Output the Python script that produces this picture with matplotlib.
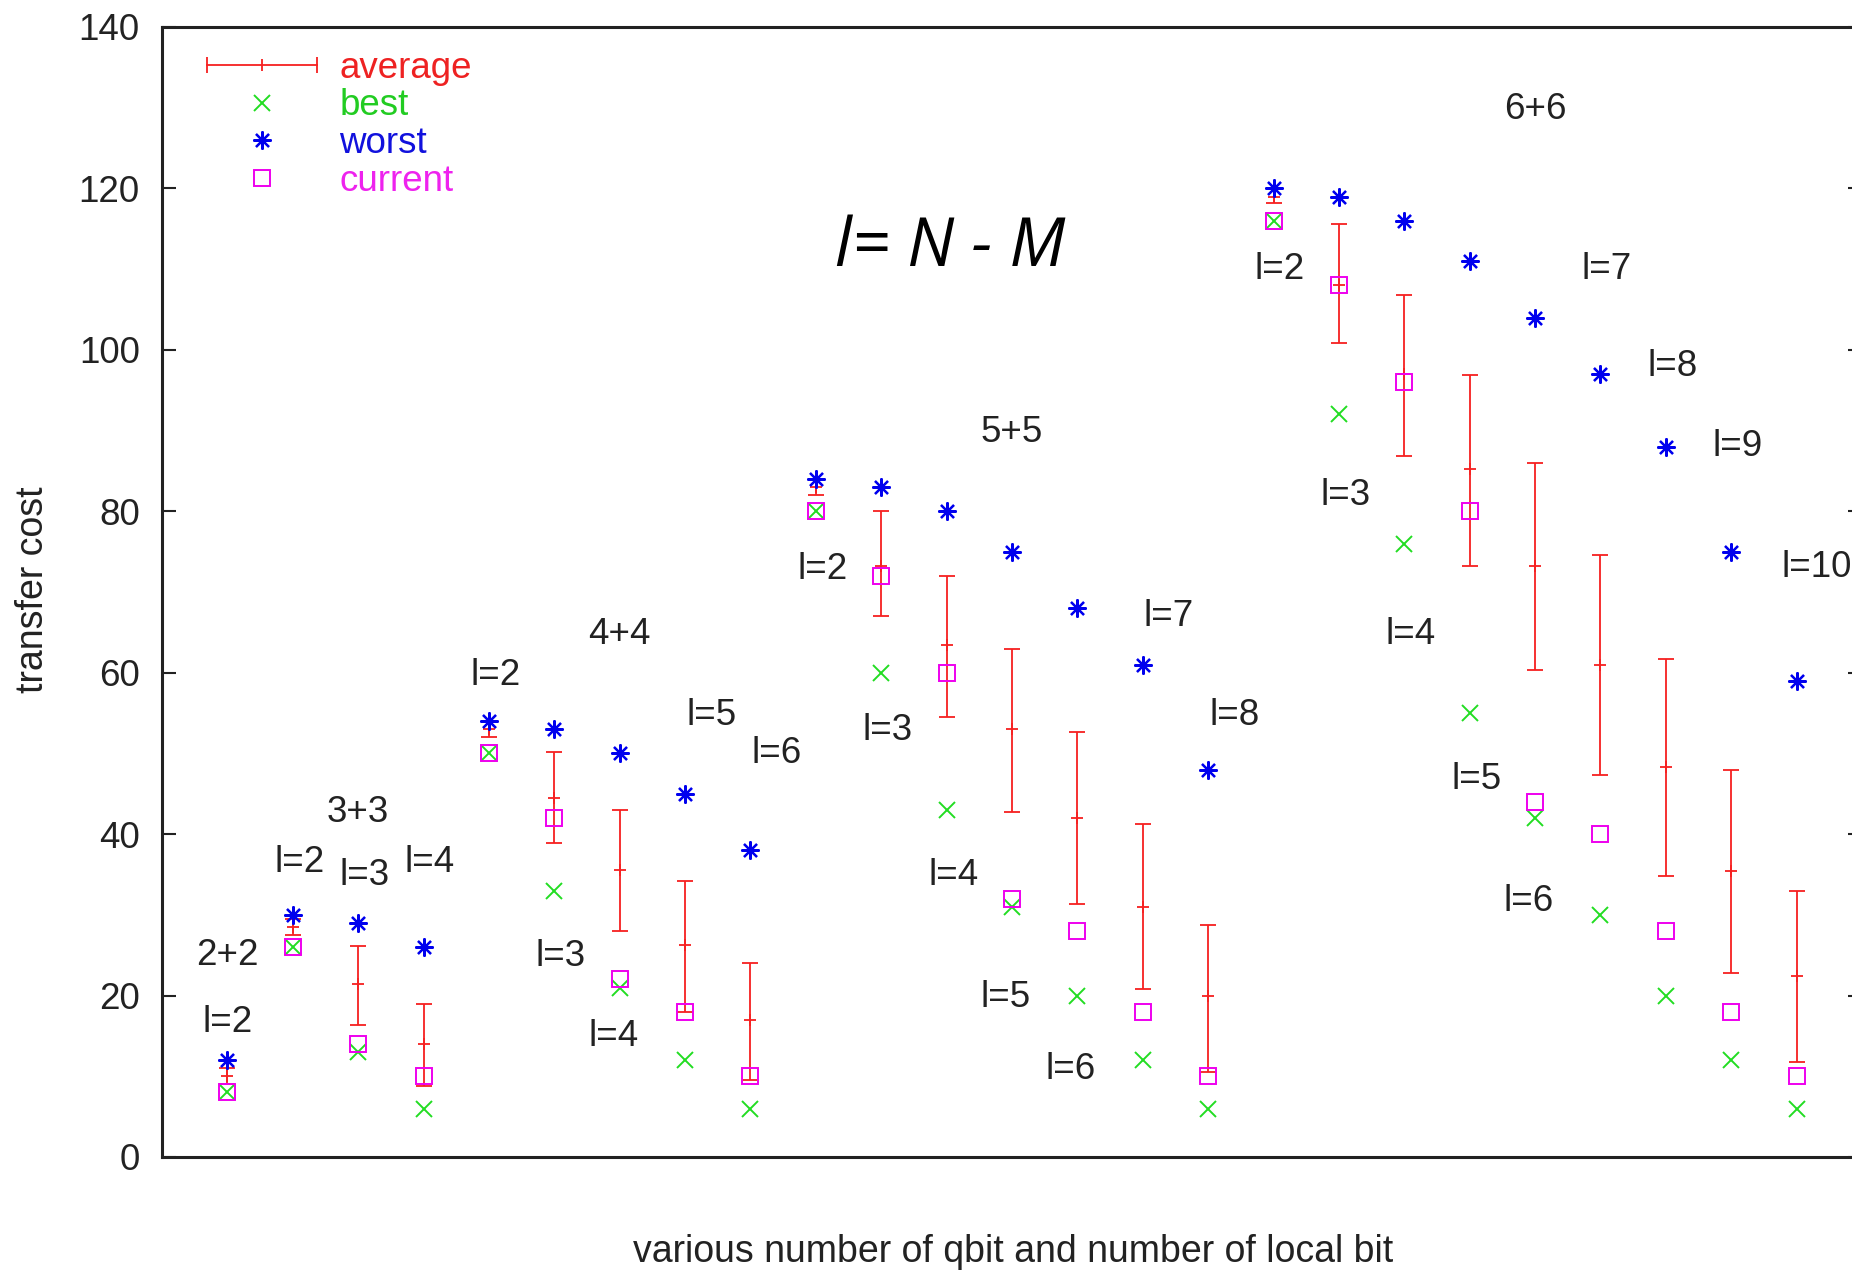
import matplotlib
matplotlib.use("Agg")
import matplotlib.pyplot as plt
from matplotlib.lines import Line2D
from matplotlib.legend_handler import HandlerBase
import numpy as np

# 25 configurations: 2+2 (l=2), 3+3 (l=2..4), 4+4 (l=2..6), 5+5 (l=2..8), 6+6 (l=2..10)
x = np.arange(1, 26)

worst = [12, 30, 29, 26, 54, 53, 50, 45, 38,
         84, 83, 80, 75, 68, 61, 48,
         120, 119, 116, 111, 104, 97, 88, 75, 59]
best = [8, 26, 13, 6, 50, 33, 21, 12, 6,
        80, 60, 43, 31, 20, 12, 6,
        116, 92, 76, 55, 42, 30, 20, 12, 6]
current = [8, 26, 14, 10, 50, 42, 22, 18, 10,
           80, 72, 60, 32, 28, 18, 10,
           116, 108, 96, 80, 44, 40, 28, 18, 10]
average = [10, 28.5, 21.4, 14, 53, 44.5, 35.5, 26.3, 17,
           83, 73.2, 63.4, 53, 42, 31, 20,
           119, 108, 97, 85.2, 73.2, 61, 48.3, 35.4, 22.4]
avg_low = [9, 27.5, 16.4, 8.8, 52, 38.9, 28, 18, 9.6,
           82, 67, 54.5, 42.7, 31.3, 20.8, 10.5,
           118.2, 100.8, 86.8, 73.2, 60.3, 47.3, 34.8, 22.8, 11.8]
avg_high = [11, 29.5, 26.1, 19, 54, 50.2, 43, 34.2, 24,
            84, 80, 72, 63, 52.7, 41.3, 28.7,
            120, 115.6, 106.8, 96.9, 86, 74.6, 61.7, 48, 32.9]

group_labels = ["2+2", "3+3", "4+4", "5+5", "6+6"]
group_pos = [(1.0, 25), (3.0, 42.7), (7.0, 64.7), (13.0, 89.8), (21.0, 129.8)]

l_labels = ["l=2",
            "l=2", "l=3", "l=4",
            "l=2", "l=3", "l=4", "l=5", "l=6",
            "l=2", "l=3", "l=4", "l=5", "l=6", "l=7", "l=8",
            "l=2", "l=3", "l=4", "l=5", "l=6", "l=7", "l=8", "l=9", "l=10"]
l_pos = [(1.0, 16.7),
         (2.1, 36.5), (3.1, 34.9), (4.1, 36.5),
         (5.1, 59.7), (6.1, 24.8), (6.9, 14.9), (8.4, 54.7), (9.4, 50.0),
         (10.1, 72.8), (11.1, 52.8), (12.1, 34.9), (12.9, 19.8), (13.9, 10.9), (15.4, 67.0), (16.4, 54.7),
         (17.1, 109.9), (18.1, 81.9), (19.1, 64.7), (20.1, 46.8), (20.9, 31.7), (22.1, 109.9), (23.1, 98.0),
         (24.1, 88.0), (25.3, 73.0)]

RED = "#f62020"
GREEN = "#22dd22"
BLUE = "#0000ee"
MAGENTA = "#ee00ee"
FS = 26.5

plt.rcParams["font.family"] = ["Liberation Sans", "DejaVu Sans"]

fig = plt.figure(figsize=(18.52, 12.7), dpi=100)
ax = fig.add_axes([162 / 1852, 113 / 1270, 1700 / 1852, 1130 / 1270])

avg = np.array(average)
yerr = [avg - np.array(avg_low), np.array(avg_high) - avg]
ax.errorbar(x, avg, yerr=yerr, fmt="+", color=RED, ms=9, mew=1.3,
            elinewidth=1.3, capsize=6, capthick=1.3, zorder=2)
ax.plot(x, best, ls="none", marker="x", color=GREEN, ms=11, mew=1.4, zorder=3)
ax.plot(x, worst, ls="none", marker=(8, 2, 0), color=BLUE, ms=13, mew=1.6, zorder=3)
ax.plot(x, current, ls="none", marker="s", mfc="none", mec=MAGENTA, ms=12, mew=1.4, zorder=4)

for txt, (px, py) in zip(group_labels, group_pos):
    ax.text(px, py, txt, ha="center", va="center", fontsize=FS, color="#222222")
for txt, (px, py) in zip(l_labels, l_pos):
    ax.text(px, py, txt, ha="center", va="center", fontsize=FS, color="#222222")

ax.text(12.05, 112.6, "l= N - M", ha="center", va="center", fontsize=48,
        family="Open Sans", style="italic", color="black")

ax.set_xlim(0, 26)
ax.set_ylim(0, 140)
ax.set_xticks([])
ax.set_yticks(range(0, 141, 20))
ax.tick_params(axis="y", direction="in", length=10, width=1.5, right=True,
               labelsize=FS, pad=16, colors="#222222")
for s in ax.spines.values():
    s.set_linewidth(2.2)
    s.set_color("#222222")

fig.text(33 / 1852, 1 - 590 / 1270, "transfer cost", rotation=90,
         ha="center", va="center", fontsize=27, color="#222222")
fig.text(1013 / 1852, 1 - 1252 / 1270, "various number of qbit and number of local bit",
         ha="center", va="center", fontsize=27, color="#222222")


class ErrHandler(HandlerBase):
    def create_artists(self, legend, orig_handle, xdescent, ydescent, width, height, fontsize, trans):
        y = height / 2 - ydescent
        x0, x1 = -xdescent, width - xdescent
        bar = Line2D([x0, x1], [y, y], color=RED, lw=1.3)
        ends = Line2D([x0, x1], [y, y], ls="none", marker="|", ms=11, mew=1.3, color=RED)
        mid = Line2D([(x0 + x1) / 2], [y], ls="none", marker="|", ms=8, mew=1.3, color=RED)
        for a in (bar, ends, mid):
            a.set_transform(trans)
        return [bar, ends, mid]


avg_proxy = Line2D([], [], color=RED)
handles = [avg_proxy,
           Line2D([], [], ls="none", marker="x", color=GREEN, ms=11, mew=1.4),
           Line2D([], [], ls="none", marker=(8, 2, 0), color=BLUE, ms=13, mew=1.6),
           Line2D([], [], ls="none", marker="s", mfc="none", mec=MAGENTA, ms=12, mew=1.4)]
ax.legend(handles, ["average", "best", "worst", "current"],
          handler_map={avg_proxy: ErrHandler()},
          loc="upper left", bbox_to_anchor=((207 - 162) / 1700, 0.979),
          frameon=False, borderpad=0, borderaxespad=0, fontsize=FS,
          handlelength=3.0, handletextpad=0.6, labelspacing=0.075,
          labelcolor=["#ee2222", "#22cc22", "#1111dd", "#ee22ee"])

fig.savefig("out.png", dpi=100)
